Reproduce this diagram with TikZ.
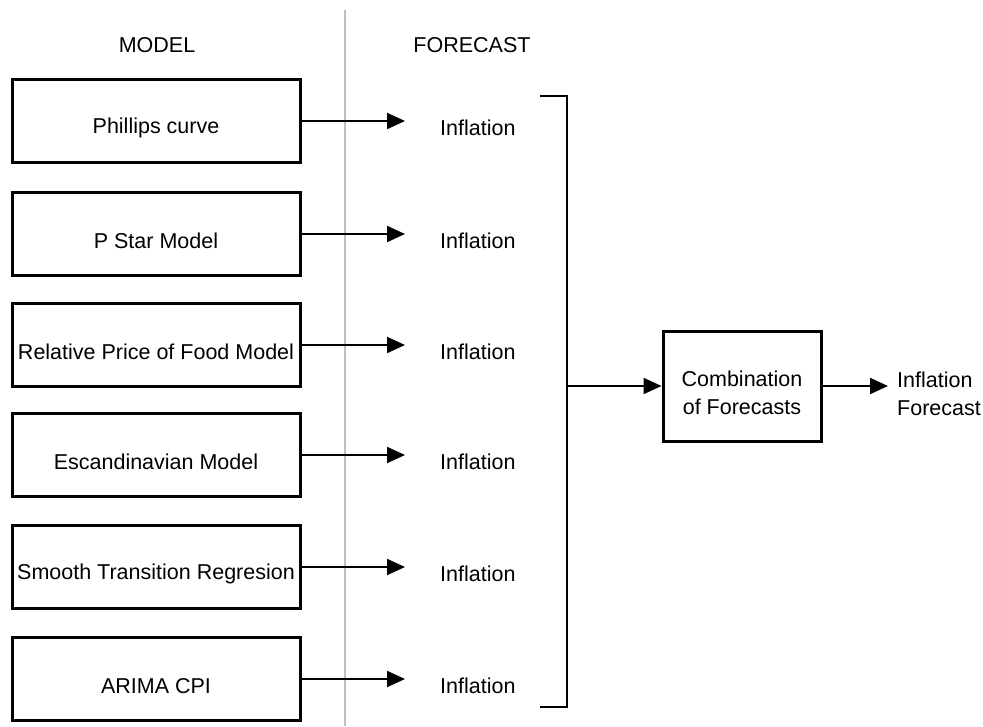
\documentclass[tikz,border=0pt]{standalone}
\usepackage{fontspec}
\setmainfont{Liberation Sans}
\usetikzlibrary{arrows.meta}
\begin{document}
\begin{tikzpicture}[x=1pt,y=-1pt,
  every node/.style={font=\fontsize{21.5}{28}\selectfont},
  modelbox/.style={draw,line width=3pt,minimum width=288pt,minimum height=83pt,inner sep=0pt},
  combbox/.style={draw,line width=3pt,minimum width=158pt,minimum height=110pt,inner sep=0pt},
  boxtext/.style={inner sep=0pt,yshift=-7pt,align=center},
  fctext/.style={inner sep=0pt,anchor=west},
  arr/.style={line width=2pt,-{Triangle[length=18pt,width=16pt]}},
  bracketline/.style={line width=2.5pt},
  divider/.style={line width=2pt,draw=black!25}]
\useasboundingbox (0,0) rectangle (983,726);
% headers
\node[inner sep=0pt] (hmodel) at (157,45) {MODEL};
\node[inner sep=0pt] (hfc) at (472,45) {FORECAST};
% divider
\coordinate (dtop) at (345,10);
\coordinate (dbot) at (345,726);
\draw[divider] (dtop) -- (dbot);
% model boxes
\node[modelbox] (m1) at (156,121) {};
\node[modelbox] (m2) at (156,234) {};
\node[modelbox] (m3) at (156,345) {};
\node[modelbox] (m4) at (156,455) {};
\node[modelbox] (m5) at (156,567) {};
\node[modelbox] (m6) at (156,679) {};
\node[boxtext] (t1) at (m1.center) {Phillips curve};
\node[boxtext] (t2) at (m2.center) {P Star Model};
\node[boxtext] (t3) at (m3.center) {Relative Price of Food Model};
\node[boxtext] (t4) at (m4.center) {Escandinavian Model};
\node[boxtext] (t5) at (m5.center) {Smooth Transition Regresion};
\node[boxtext] (t6) at (m6.center) {ARIMA CPI};
% forecasts
\foreach \i/\y in {1/128,2/241,3/352,4/462,5/574,6/686}{
  \node[fctext] (f\i) at (440,\y) {Inflation};
  \draw[arr,shorten >=35pt] (m\i.east) -- (m\i.east -| f\i.west);
}
% bracket
\coordinate (bl1) at (540,96);
\coordinate (bt) at (567,96);
\coordinate (bb) at (567,707);
\coordinate (bl2) at (540,707);
\draw[bracketline] (bl1) -- (bt) -- (bb) -- (bl2);
% combination
\node[combbox] (comb) at (742,386) {};
\node[boxtext] (ctext) at (comb.center) {Combination\\of Forecasts};
\draw[arr] (comb.west -| bt) -- (comb.west);
\node[fctext,align=left] (out) at (897,394) {Inflation\\Forecast};
\draw[arr,shorten >=9pt] (comb.east) -- (comb.east -| out.west);
\end{tikzpicture}
\end{document}
